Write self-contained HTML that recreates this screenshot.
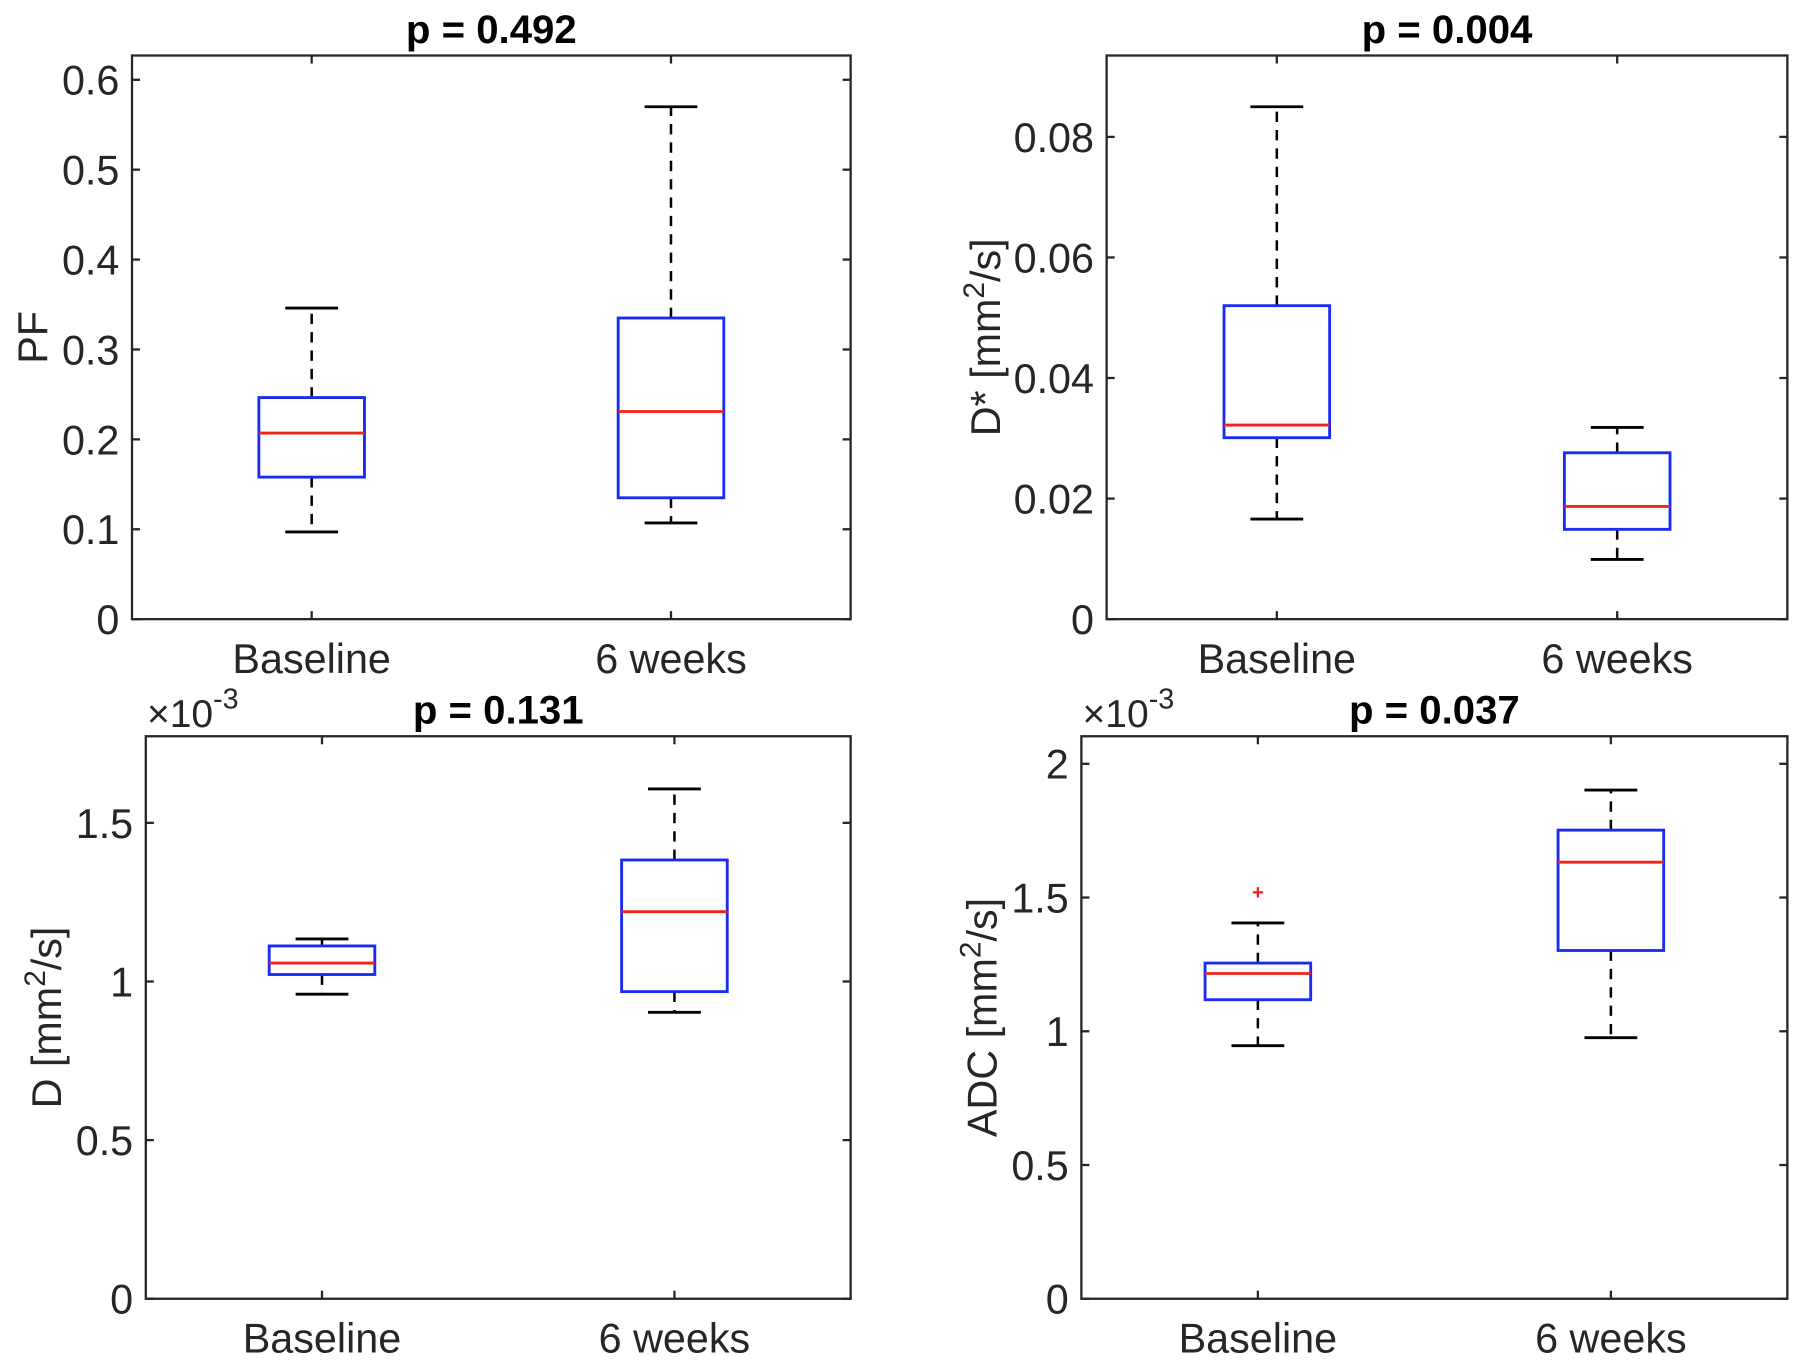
<!DOCTYPE html>
<html><head><meta charset="utf-8">
<style>
html,body{margin:0;padding:0;background:#fff;}
svg{display:block;}
text{font-family:"Liberation Sans",Arial,sans-serif;}
</style></head>
<body>
<svg id="fig" width="1800" height="1360" viewBox="0 0 1568 1184" xmlns="http://www.w3.org/2000/svg"></svg>
<script>
// ---- data ----
const categories = ["Baseline", "6 weeks"];
const titles = ["p = 0.492", "p = 0.004", "p = 0.131", "p = 0.037"];
const yLabels = ["PF", "D* [mm²/s]", "D [mm²/s]", "ADC [mm²/s]"];
// [lowWhisker, Q1, median, Q3, highWhisker] per category
const pfStats = [[0.097, 0.158, 0.207, 0.2465, 0.346], [0.107, 0.135, 0.231, 0.335, 0.570]];
const dstarStats = [[0.0166, 0.0301, 0.0322, 0.052, 0.085], [0.0099, 0.0149, 0.0187, 0.0276, 0.0318]];
const dStats = [[0.960, 1.022, 1.058, 1.112, 1.134], [0.903, 0.968, 1.220, 1.383, 1.607]];
const adcStats = [[0.946, 1.118, 1.216, 1.255, 1.405], [0.976, 1.302, 1.632, 1.752, 1.902]];
const adcOutliers = [[1.520], []];
const pfTicks = [0, 0.1, 0.2, 0.3, 0.4, 0.5, 0.6];
const pfTickLabels = ["0", "0.1", "0.2", "0.3", "0.4", "0.5", "0.6"];
const dstarTicks = [0, 0.02, 0.04, 0.06, 0.08];
const dstarTickLabels = ["0", "0.02", "0.04", "0.06", "0.08"];
const dTicks = [0, 0.5, 1, 1.5];
const dTickLabels = ["0", "0.5", "1", "1.5"];
const adcTicks = [0, 0.5, 1, 1.5, 2];
const adcTickLabels = ["0", "0.5", "1", "1.5", "2"];

const NS = "http://www.w3.org/2000/svg";
const svg = document.getElementById("fig");
function mk(tag, attrs, parent, txt) {
  const e = document.createElementNS(NS, tag);
  for (const k in attrs) e.setAttribute(k, attrs[k]);
  if (txt !== undefined) e.textContent = txt;
  (parent || svg).appendChild(e);
  return e;
}

const panels = [
  {L:115, R:741, T:48, B:539, ymax:0.627, stats:pfStats, out:[[],[]], ticks:pfTicks, tl:pfTickLabels, ylx:28, exp:false, name:"pf"},
  {L:964, R:1557, T:48, B:539, ymax:0.0935, stats:dstarStats, out:[[],[]], ticks:dstarTicks, tl:dstarTickLabels, ylx:858, exp:false, name:"dstar"},
  {L:127, R:741, T:641, B:1131, ymax:1.773, stats:dStats, out:[[],[]], ticks:dTicks, tl:dTickLabels, ylx:40, exp:true, name:"d"},
  {L:942, R:1557, T:641, B:1131, ymax:2.103, stats:adcStats, out:adcOutliers, ticks:adcTicks, tl:adcTickLabels, ylx:855, exp:true, name:"adc"}
];

panels.forEach((p, i) => {
  const g = mk("g", {});
  
  
  const y = v => p.B - (v / p.ymax) * (p.B - p.T);
  const x = c => p.L + (c + 0.5) / categories.length * (p.R - p.L);
  const bw = 46;
  p.stats.forEach((s, c) => {
    const cx = x(c);
    const bg = mk("g", {}, g);
    
    
    mk("line", {x1:cx, x2:cx, y1:y(s[3]), y2:y(s[4]), stroke:"#000", "stroke-width":2.2, "stroke-dasharray":"9,7"}, bg);
    mk("line", {x1:cx, x2:cx, y1:y(s[1]), y2:y(s[0]), stroke:"#000", "stroke-width":2.2, "stroke-dasharray":"9,7"}, bg);
    mk("line", {x1:cx-23, x2:cx+23, y1:y(s[4]), y2:y(s[4]), stroke:"#000", "stroke-width":2.5}, bg);
    mk("line", {x1:cx-23, x2:cx+23, y1:y(s[0]), y2:y(s[0]), stroke:"#000", "stroke-width":2.5}, bg);
    mk("rect", {x:cx-bw, y:y(s[3]), width:2*bw, height:y(s[1])-y(s[3]), fill:"none", stroke:"#1a2cf0", "stroke-width":2.5}, bg);
    mk("line", {x1:cx-bw, x2:cx+bw, y1:y(s[2]), y2:y(s[2]), stroke:"#f2231a", "stroke-width":2.5}, bg);
    p.out[c].forEach(o => {
      const t = mk("text", {x:cx, y:y(o)+6, "text-anchor":"middle", "font-size":18, fill:"#f2231a", "font-weight":"bold"}, bg, "+");
      
      
    });
  });
  const fr = mk("rect", {x:p.L, y:p.T, width:p.R-p.L, height:p.B-p.T, fill:"none", stroke:"#262626", "stroke-width":2}, g);
  
  
  p.ticks.forEach((t, k) => {
    const yy = y(t);
    mk("line", {x1:p.L, x2:p.L+7, y1:yy, y2:yy, stroke:"#262626", "stroke-width":2}, g);
    mk("line", {x1:p.R, x2:p.R-7, y1:yy, y2:yy, stroke:"#262626", "stroke-width":2}, g);
    const tx = mk("text", {x:p.L-11, y:yy+13, "text-anchor":"end", "font-size":36, fill:"#262626"}, g, p.tl[k]);
    
    
  });
  categories.forEach((cat, c) => {
    const cx = x(c);
    mk("line", {x1:cx, x2:cx, y1:p.B, y2:p.B-7, stroke:"#262626", "stroke-width":2}, g);
    mk("line", {x1:cx, x2:cx, y1:p.T, y2:p.T+7, stroke:"#262626", "stroke-width":2}, g);
    const tx = mk("text", {x:cx, y:p.B+47, "text-anchor":"middle", "font-size":36, fill:"#262626"}, g, cat);
    
    
  });
  const tt = mk("text", {x:(p.L+p.R)/2, y:p.T-11, "text-anchor":"middle", "font-size":35, "font-weight":"bold", fill:"#000"}, g, titles[i]);
  
  
  const cy = (p.T + p.B) / 2;
  const yl = mk("text", {x:p.ylx, y:cy, "text-anchor":"middle", "font-size":36, fill:"#262626", transform:`rotate(-90 ${p.ylx} ${cy})`, dy:"13"}, g);
  
  
  const lab = yLabels[i];
  if (lab.indexOf("²") >= 0) {
    const parts = lab.split("²");
    mk("tspan", {}, yl, parts[0]);
    mk("tspan", {dy:"-14", "font-size":26}, yl, "2");
    mk("tspan", {dy:"14"}, yl, parts[1]);
  } else yl.textContent = lab;
  if (p.exp) {
    const ex = mk("text", {x:p.L+1, y:p.T-8, "font-size":34, fill:"#262626"}, g);
    
    
    mk("tspan", {}, ex, "×10");
    mk("tspan", {dy:"-16", "font-size":25}, ex, "-3");
  }
});
</script>
</body></html>
